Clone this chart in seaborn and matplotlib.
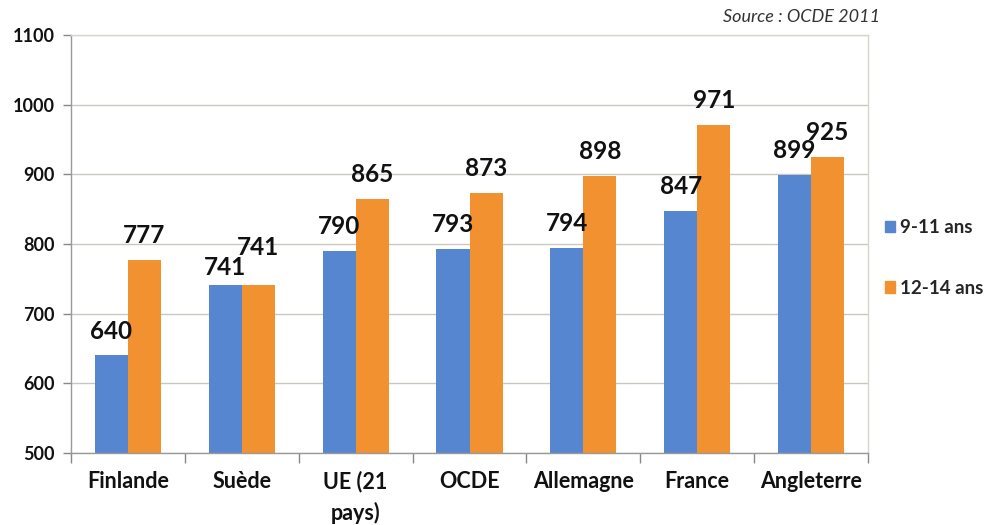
import matplotlib
matplotlib.use("Agg")
import matplotlib.pyplot as plt
import seaborn as sns
import pandas as pd
import numpy as np

categories = ["Finlande", "Suède", "UE (21\npays)", "OCDE", "Allemagne", "France", "Angleterre"]
series_names = ["9-11 ans", "12-14 ans"]
values_9_11 = [640, 741, 790, 793, 794, 847, 899]
values_12_14 = [777, 741, 865, 873, 898, 971, 925]
y_ticks = [500, 600, 700, 800, 900, 1000, 1100]
source_text = "Source : OCDE 2011"

colors = ["#5586CF", "#F2912F"]

df = pd.DataFrame({
    "cat": categories * 2,
    "serie": [series_names[0]] * len(categories) + [series_names[1]] * len(categories),
    "val": values_9_11 + values_12_14,
})

sns.set_theme(style="white")
plt.rcParams["font.family"] = ["Lato", "DejaVu Sans"]

fig = plt.figure(figsize=(9.85, 5.25), dpi=100)
ax = fig.add_axes([71 / 985, 1 - 453 / 525, (868 - 71) / 985, (453 - 35) / 525])

sns.barplot(data=df, x="cat", y="val", hue="serie", palette=colors, ax=ax,
            width=0.58, gap=0, saturation=1, legend=True, edgecolor="none")

ax.set_ylim(500, 1100)
ax.set_xlim(-0.5, len(categories) - 0.5)
ax.set_yticks(y_ticks)
ax.set_yticklabels([str(t) for t in y_ticks], fontsize=13, fontweight="bold", color="#111111")
ax.yaxis.grid(True, color="#C8C8C0", linewidth=1)
ax.set_axisbelow(True)
ax.set_xlabel("")
ax.set_ylabel("")
ax.tick_params(axis="y", which="major", length=6, color="#888888", width=1, pad=6, left=True)
ax.tick_params(axis="x", which="major", length=0, pad=13)
ax.set_xticks(np.arange(-0.5, len(categories), 1.0), minor=True)
ax.tick_params(axis="x", which="minor", length=7, color="#888888", width=1, bottom=True)
for lbl in ax.get_xticklabels():
    lbl.set_fontsize(15.5)
    lbl.set_fontweight("bold")
    lbl.set_color("#111111")
    lbl.set_verticalalignment("top")
    lbl.set_linespacing(1.5)

for side in ["left", "bottom"]:
    ax.spines[side].set_color("#999999")
    ax.spines[side].set_linewidth(1)
for side in ["top", "right"]:
    ax.spines[side].set_color("#D6D6CE")
    ax.spines[side].set_linewidth(1)

# value labels; (series index, category index) -> offset in points
special_offsets = {(0, 1): 7, (1, 1): 21.5}
for si, cont in enumerate(ax.containers):
    for ci, bar in enumerate(cont):
        h = bar.get_height()
        off = special_offsets.get((si, ci), 12.2)
        ax.annotate(f"{int(round(h))}", (bar.get_x() + bar.get_width() / 2, h),
                    xytext=(0, off), textcoords="offset points",
                    ha="center", va="baseline", fontsize=17.5, fontweight="bold",
                    color="#111111", annotation_clip=False)

ax.legend_.remove()
handles = [plt.Rectangle((0, 0), 1, 1, color=c) for c in colors]
fig.legend(handles, series_names, loc="center left", bbox_to_anchor=(885 / 985, 1 - 258 / 525),
           frameon=False, prop={"weight": "bold", "size": 13.5}, labelspacing=2.3,
           handlelength=0.55, handleheight=0.55, handletextpad=0.25, borderaxespad=0,
           borderpad=0)

fig.text(880 / 985, 1 - 17 / 525, source_text, ha="right", va="center",
         fontsize=13, style="italic", color="#333333")

fig.savefig("out.png", dpi=100)
